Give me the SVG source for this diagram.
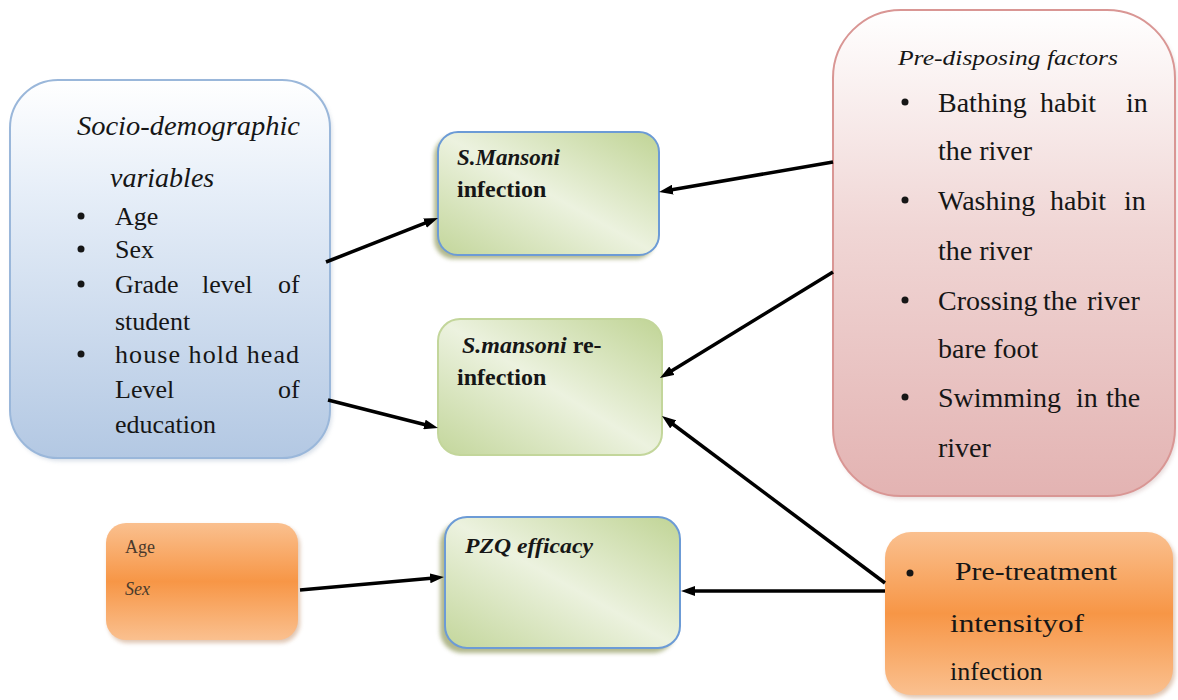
<svg xmlns="http://www.w3.org/2000/svg" width="1178" height="700" viewBox="0 0 1178 700">
<defs>
  <linearGradient id="gBlue" x1="0" y1="0" x2="0" y2="1">
    <stop offset="0" stop-color="#ffffff"/>
    <stop offset="0.3" stop-color="#e6eef8"/>
    <stop offset="1" stop-color="#b3c8e3"/>
  </linearGradient>
  <linearGradient id="gPink" x1="0" y1="0" x2="0" y2="1">
    <stop offset="0" stop-color="#ffffff"/>
    <stop offset="0.45" stop-color="#f0d6d5"/>
    <stop offset="1" stop-color="#e3b3b2"/>
  </linearGradient>
  <linearGradient id="gGreen" x1="1" y1="0" x2="0" y2="1">
    <stop offset="0" stop-color="#c0d495"/>
    <stop offset="0.5" stop-color="#ecf2df"/>
    <stop offset="1" stop-color="#c3d69b"/>
  </linearGradient>
  <linearGradient id="gOrange" x1="0" y1="0" x2="0" y2="1">
    <stop offset="0" stop-color="#fac08f"/>
    <stop offset="0.5" stop-color="#f79646"/>
    <stop offset="1" stop-color="#fac08f"/>
  </linearGradient>
  <filter id="blur" x="-10%" y="-10%" width="120%" height="120%">
    <feGaussianBlur stdDeviation="2"/>
  </filter>
  <marker id="arr" viewBox="0 0 14 10" refX="4" refY="5" markerWidth="14" markerHeight="10" markerUnits="userSpaceOnUse" orient="auto">
    <path d="M0,0 L14,5 L0,10 Z" fill="#000"/>
  </marker>
</defs>
<rect width="1178" height="700" fill="#ffffff"/>

<g id="socio" fill="#161616">
  <rect x="12" y="83" width="320" height="378" rx="48" fill="#8fa3bd" opacity="0.35" filter="url(#blur)"/>
  <rect x="10" y="80" width="320" height="378" rx="48" fill="url(#gBlue)" stroke="#9ab7da" stroke-width="2"/>
  <text font-family="Liberation Serif" font-style="italic" x="77" y="135" font-size="28" textLength="223" lengthAdjust="spacingAndGlyphs">Socio-demographic</text>
  <text font-family="Liberation Serif" font-style="italic" x="110" y="187" font-size="28">variables</text>
  <circle cx="81" cy="216" r="3.5"/><text font-family="Liberation Serif" font-size="26" x="115" y="225">Age</text>
  <circle cx="81" cy="249" r="3.5"/><text font-family="Liberation Serif" font-size="26" x="115" y="258">Sex</text>
  <circle cx="81" cy="284" r="3.5"/><text font-family="Liberation Serif" font-size="26" x="115" y="293">Grade</text><text font-family="Liberation Serif" font-size="26" x="202" y="293">level</text><text font-family="Liberation Serif" font-size="26" x="278" y="293">of</text>
  <text font-family="Liberation Serif" font-size="26" x="115" y="330">student</text>
  <circle cx="81" cy="354" r="3.5"/><text font-family="Liberation Serif" font-size="26" x="115" y="363" textLength="184" lengthAdjust="spacing">house hold head</text>
  <text font-family="Liberation Serif" font-size="26" x="115" y="398">Level</text><text font-family="Liberation Serif" font-size="26" x="278" y="398">of</text>
  <text font-family="Liberation Serif" font-size="26" x="115" y="433">education</text>
</g>

<g id="infection" fill="#161616">
  <rect x="434" y="136" width="221" height="123" rx="20" fill="#9ea66f" opacity="0.8" filter="url(#blur)"/>
  <rect x="438" y="132" width="221" height="123" rx="20" fill="url(#gGreen)" stroke="#6c9bd6" stroke-width="2"/>
  <text font-family="Liberation Serif" font-style="italic" font-weight="bold" x="457" y="165" font-size="23">S.Mansoni</text>
  <text font-family="Liberation Serif" font-weight="bold" x="457" y="197" font-size="24">infection</text>
</g>

<g id="reinfection" fill="#161616">
  <rect x="438" y="319" width="224" height="136" rx="22" fill="url(#gGreen)" stroke="#c3d69b" stroke-width="2"/>
  <text font-family="Liberation Serif" x="462" y="353" font-size="24" font-weight="bold"><tspan font-style="italic">S.mansoni</tspan> re-</text>
  <text font-family="Liberation Serif" font-weight="bold" x="457" y="385" font-size="24">infection</text>
</g>

<g id="pzq" fill="#161616">
  <rect x="440" y="522" width="235" height="131" rx="22" fill="#9ea66f" opacity="0.8" filter="url(#blur)"/>
  <rect x="445" y="517" width="235" height="131" rx="22" fill="url(#gGreen)" stroke="#6c9bd6" stroke-width="2"/>
  <text font-family="Liberation Serif" font-style="italic" font-weight="bold" x="465" y="553" font-size="22" textLength="128" lengthAdjust="spacingAndGlyphs">PZQ efficacy</text>
</g>

<g id="predisposing" fill="#161616">
  <rect x="835" y="13" width="342" height="486" rx="68" fill="#b08888" opacity="0.3" filter="url(#blur)"/>
  <rect x="833" y="10" width="342" height="486" rx="68" fill="url(#gPink)" stroke="#d99694" stroke-width="2"/>
  <text font-family="Liberation Serif" font-style="italic" x="898" y="65" font-size="22" textLength="220" lengthAdjust="spacingAndGlyphs">Pre-disposing factors</text>
  <circle cx="905" cy="102" r="3.5"/><text font-family="Liberation Serif" font-size="28" x="938" y="112">Bathing</text><text font-family="Liberation Serif" font-size="28" x="1040" y="112">habit</text><text font-family="Liberation Serif" font-size="28" x="1126" y="112">in</text>
  <text font-family="Liberation Serif" font-size="28" x="938" y="160">the river</text>
  <circle cx="905" cy="200" r="3.5"/><text font-family="Liberation Serif" font-size="28" x="938" y="210">Washing</text><text font-family="Liberation Serif" font-size="28" x="1050" y="210">habit</text><text font-family="Liberation Serif" font-size="28" x="1124" y="210">in</text>
  <text font-family="Liberation Serif" font-size="28" x="938" y="260">the river</text>
  <circle cx="905" cy="300" r="3.5"/><text font-family="Liberation Serif" font-size="28" x="938" y="310">Crossing</text><text font-family="Liberation Serif" font-size="28" x="1043" y="310">the</text><text font-family="Liberation Serif" font-size="28" x="1087" y="310">river</text>
  <text font-family="Liberation Serif" font-size="28" x="938" y="358">bare foot</text>
  <circle cx="905" cy="397" r="3.5"/><text font-family="Liberation Serif" font-size="28" x="938" y="407">Swimming</text><text font-family="Liberation Serif" font-size="28" x="1076" y="407">in</text><text font-family="Liberation Serif" font-size="28" x="1106" y="407">the</text>
  <text font-family="Liberation Serif" font-size="28" x="938" y="457">river</text>
</g>

<g id="agesex" fill="#4a3a2c">
  <rect x="108" y="526" width="192" height="117" rx="20" fill="#b07040" opacity="0.4" filter="url(#blur)"/>
  <rect x="106" y="523" width="192" height="117" rx="20" fill="url(#gOrange)"/>
  <text font-family="Liberation Serif" x="125" y="553" font-size="18">Age</text>
  <text font-family="Liberation Serif" font-style="italic" x="125" y="595" font-size="18">Sex</text>
</g>

<g id="pretreatment" fill="#161616">
  <rect x="887" y="535" width="288" height="163" rx="26" fill="#b07040" opacity="0.4" filter="url(#blur)"/>
  <rect x="885" y="532" width="288" height="163" rx="26" fill="url(#gOrange)"/>
  <circle cx="910" cy="573" r="3.5"/>
  <text font-family="Liberation Serif" x="955" y="580" font-size="26" textLength="162" lengthAdjust="spacingAndGlyphs">Pre-treatment</text>
  <text font-family="Liberation Serif" x="950" y="632" font-size="26" textLength="134" lengthAdjust="spacingAndGlyphs">intensityof</text>
  <text font-family="Liberation Serif" x="950" y="680" font-size="26">infection</text>
</g>

<g id="connectors" stroke="#000" stroke-width="3.5" marker-end="url(#arr)">
  <line x1="326" y1="262" x2="428.7" y2="221.7"/>
  <line x1="328" y1="400" x2="428.3" y2="425.5"/>
  <line x1="833" y1="162" x2="668.9" y2="190.3"/>
  <line x1="833" y1="272" x2="668.5" y2="372.8"/>
  <line x1="885" y1="583" x2="670" y2="422"/>
  <line x1="885" y1="591" x2="691" y2="591"/>
  <line x1="300" y1="590" x2="434" y2="577.9"/>
</g>
</svg>
